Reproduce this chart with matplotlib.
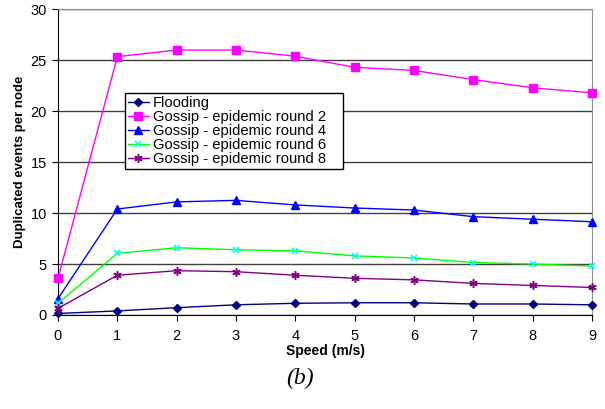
import matplotlib
matplotlib.use("Agg")
import matplotlib.pyplot as plt

speed = [0, 1, 2, 3, 4, 5, 6, 7, 8, 9]
flooding = [0.15, 0.4, 0.72, 1.0, 1.15, 1.2, 1.2, 1.08, 1.08, 1.0]
round2 = [3.6, 25.35, 26.0, 26.0, 25.4, 24.3, 24.0, 23.1, 22.3, 21.8]
round4 = [1.6, 10.4, 11.1, 11.25, 10.8, 10.5, 10.3, 9.65, 9.4, 9.15]
round6 = [1.15, 6.05, 6.6, 6.4, 6.3, 5.8, 5.6, 5.15, 5.0, 4.8]
round8 = [0.65, 3.9, 4.35, 4.25, 3.9, 3.6, 3.45, 3.1, 2.9, 2.7]
labels = ["Flooding", "Gossip - epidemic round 2", "Gossip - epidemic round 4",
          "Gossip - epidemic round 6", "Gossip - epidemic round 8"]
yticks = [0, 5, 10, 15, 20, 25, 30]

plt.rcParams['font.family'] = ['Liberation Sans', 'DejaVu Sans']

fig = plt.figure(figsize=(6.05, 4.09), dpi=100)
ax = fig.add_axes([58/605, 1-315/409, (592-58)/605, (315-9.3)/409])

kw = dict(lw=1, clip_on=False, zorder=3)
ax.plot(speed, flooding, color='#000080', marker='D', markersize=4, label=labels[0], **kw)
ax.plot(speed, round2, color='#FF00FF', marker='s', markersize=5.5, label=labels[1], **kw)
ax.plot(speed, round4, color='#0000FF', marker='^', markersize=5.5, label=labels[2], **kw)
ax.plot(speed, round6, color='#00FF00', marker='x', markersize=5, mec='#00FFFF', mew=1.2, label=labels[3], **kw)
ax.plot(speed, round8, color='#800080', marker=(6, 2, 0), markersize=6, mew=1.1, label=labels[4], **kw)

ax.set_xlim(0, 9)
ax.set_ylim(0, 30)
ax.set_xticks(speed)
ax.set_yticks(yticks)
ax.tick_params(labelsize=10.5, direction='out', length=4, color='black')
ax.tick_params(axis='x', pad=6)
ax.tick_params(axis='y', pad=4)
ax.yaxis.grid(True, color='#404040', lw=1)
ax.set_axisbelow(True)
for s in ['top', 'right']:
    ax.spines[s].set_color('#909090')
for s in ['left', 'bottom']:
    ax.spines[s].set_color('black')
ax.set_xlabel("Speed (m/s)", fontsize=10, fontweight='bold', labelpad=1)
ax.set_ylabel("Duplicated events per node", fontsize=9.5, fontweight='bold', labelpad=3)

x0 = (125-58)/534
x1 = (343-58)/534
ytop = (315-93)/305.7
leg = ax.legend(loc='upper left', bbox_to_anchor=(x0, ytop - 0.3, x1 - x0, 0.3), mode='expand',
                fontsize=10.6, frameon=True, fancybox=False, edgecolor='black',
                framealpha=1, borderpad=0.2, labelspacing=0.0, handlelength=1.4,
                handletextpad=0.3, borderaxespad=0)
leg.get_frame().set_linewidth(1)

fig.text(300/605, 1-378/409, "(b)", fontsize=17, style='italic',
         family=['Liberation Serif', 'DejaVu Serif'], ha='center', va='center')

fig.savefig("out.png", dpi=100)
